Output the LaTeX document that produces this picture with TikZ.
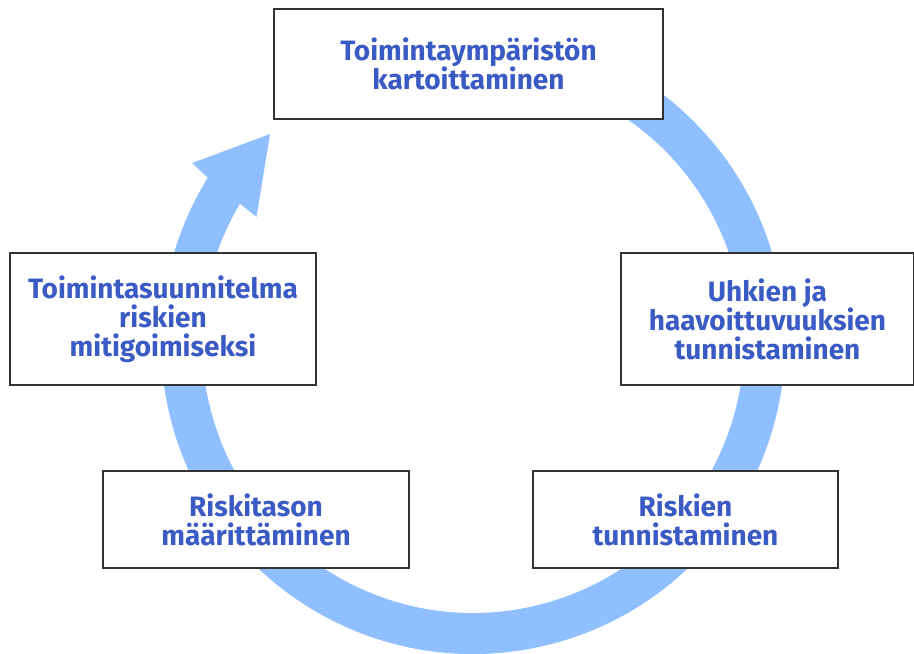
\documentclass[tikz,border=0pt]{standalone}
\usepackage{fontspec}
\setmainfont{Fira Sans}
\definecolor{ringblue}{HTML}{8FBFFF}
\definecolor{textblue}{HTML}{3B5BC4}
\definecolor{boxgray}{HTML}{333333}

\begin{document}
\begin{tikzpicture}
	[x=1pt,y=1pt,phase box/.style={shape=rectangle,draw=boxgray,line width=1.5pt,fill=white,text=textblue,font=\bfseries\fontsize{28}{29}\selectfont,align=center,inner sep=0pt}]
	\useasboundingbox (0,0) rectangle (914,654);
	
	\begin{scope}[shift={(473,312)}]
	\fill[ringblue] (100:312) arc[start angle=100,end angle=-211.8,radius=312]
		-- (147.5:333) -- (134.3:290.6) -- (150:250) -- (-210.7:271)
		arc[start angle=-210.7,end angle=100,radius=271] -- cycle;
	\end{scope}
	
	\node [phase box,minimum width=389,minimum height=110] (env) at (468.5,590) {Toimintaympäristön\\kartoittaminen};
	\node [phase box,minimum width=293,minimum height=132] (threats) at (767.5,335) {Uhkien ja\\haavoittuvuuksien\\tunnistaminen};
	\node [phase box,minimum width=305,minimum height=97] (risks) at (685.5,134.5) {Riskien\\tunnistaminen};
	\node [phase box,minimum width=306,minimum height=97] (level) at (256,134.5) {Riskitason\\määrittäminen};
	\node [phase box,minimum width=306,minimum height=132] (plan) at (163,335) {Toimintasuunnitelma\\riskien\\mitigoimiseksi};
	
\end{tikzpicture}
\end{document}
